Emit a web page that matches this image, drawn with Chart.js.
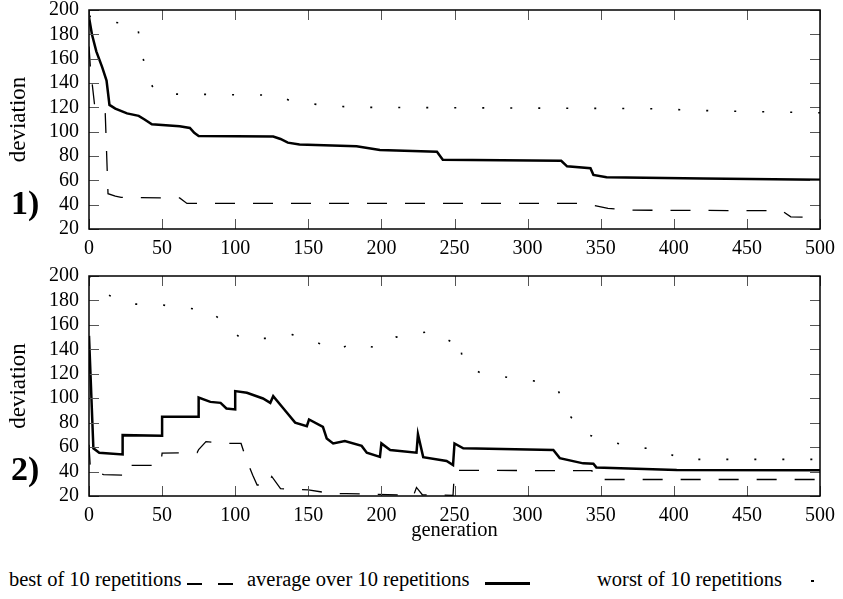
<!DOCTYPE html>
<html lang="en">
<head>
<meta charset="UTF-8">
<title>deviation x generation</title>
<script src="https://cdn.jsdelivr.net/npm/chart.js"></script>
<style>
    body { margin: 0; background: #fff; width: 843px; height: 599px; position: relative; overflow: hidden; font-family: "Liberation Serif", "DejaVu Serif", serif; color: #000; }
    .painel { position: absolute; left: 0; width: 843px; }
    #painel1 { top: 0; height: 260px; }
    #painel2 { top: 260px; height: 290px; }
    .numero { position: absolute; left: 11px; font-weight: bold; font-size: 34px; line-height: 34px; }
    .legenda { position: absolute; top: 568px; font-size: 20.5px; white-space: nowrap; }
    .traco { position: absolute; height: 2px; background: #000; }
</style>
</head>
<body>
<div class="painel" id="painel1"><canvas id="grafico1"></canvas></div>
<div class="painel" id="painel2"><canvas id="grafico2"></canvas></div>
<div class="numero" style="top:186px">1)</div>
<div class="numero" style="top:452px">2)</div>

<div class="legenda" style="left:9px">best of 10 repetitions</div>
<div class="traco" style="left:187px; top:583px; width:15px; height:1.5px"></div>
<div class="traco" style="left:218px; top:583px; width:15px; height:1.5px"></div>
<div class="legenda" style="left:247px">average over 10 repetitions</div>
<div class="traco" style="left:485px; top:582px; width:45px; height:2.5px"></div>
<div class="legenda" style="left:597px">worst of 10 repetitions</div>
<div class="traco" style="left:811px; top:580px; width:3px; height:1.5px"></div>

<script>
    // gráfico 1)
    var geracoesMelhor1 = [0, 1, 4, 11, 13, 18, 22, 62, 67, 335, 345, 355, 370, 474, 480, 500];
    var melhor1 = [170, 152, 120, 119, 49, 47, 46, 45.5, 41, 41, 39.5, 37, 35.5, 35, 30, 29.5];
    var geracoesMedia1 = [0, 2, 5, 9, 12, 14, 18, 26, 34, 38, 43, 62, 69, 72, 75, 126, 131, 136, 144, 183, 199, 238, 242, 323, 327, 343, 345, 354, 420, 500];
    var media1 = [194, 180, 166, 153, 142, 122, 119, 115, 113, 110, 106, 104.5, 103, 99, 96.5, 96, 94, 91, 89.5, 88, 85, 83.5, 77, 76, 71.5, 70, 64.5, 62.5, 61.5, 60.5];
    var geracoesPior1 = [0, 16, 33, 36, 40, 45, 50, 130, 138, 165, 190, 380, 430, 500];
    var pior1 = [195, 190, 188, 166, 144, 134, 131, 130, 125, 121, 120, 119, 117, 115.5];

    // gráfico 2)
    var geracoesMelhor2 = [0, 1, 10, 23, 24, 49, 50, 74, 75, 80, 95, 104, 107, 112, 115, 118, 122, 125, 131, 150, 166, 176, 222, 224, 228, 249, 250, 344, 346, 500];
    var melhor2 = [62, 41, 37.5, 37, 45, 45, 55, 55.5, 58, 64.5, 63, 63, 52, 37, 29, 29, 28, 36, 26, 25, 22, 22, 20.5, 27, 21, 20.5, 41, 40.7, 33.5, 33.5];
    var geracoesMedia2 = [0, 3, 7, 23, 23, 50, 50, 75, 75, 83, 90, 94, 100, 100, 108, 119, 124, 126, 133, 141, 149, 150.5, 160, 162.6, 167, 175, 186.5, 190, 199, 200, 206, 224, 225, 228.6, 244.6, 249, 250, 256, 317.6, 322, 338, 345, 347, 402, 500];
    var media2 = [151, 59, 55.4, 54, 69.8, 69.3, 84.8, 84.8, 100.6, 97, 96.2, 91.6, 90.8, 105.8, 104.4, 99.8, 96.2, 101.7, 91.6, 80, 77.2, 82.6, 76.6, 67.1, 63, 65, 61, 55.4, 52, 63, 57.6, 55.4, 70.6, 51.8, 48.6, 45.3, 63, 59, 57.6, 51, 46.7, 46.4, 43.4, 41.2, 41];
    var geracoesPior2 = [0, 12, 28, 46, 64, 83, 93, 104, 123, 139, 153, 169, 180, 198, 210, 225, 235, 248, 253, 256, 269, 287, 305, 321, 328, 339, 355, 372, 391, 405, 500];
    var pior2 = [200, 185, 177, 177, 174, 172, 160, 149, 149, 152, 147, 139, 145, 141, 150, 153, 155, 146, 150, 128, 120, 117, 114, 106, 87, 71, 65, 60, 58, 50, 50];

    var ticksX = [0, 50, 100, 150, 200, 250, 300, 350, 400, 450, 500];

    Chart.defaults.font.family = '"Liberation Serif", "DejaVu Serif", serif';
    Chart.defaults.color = '#000';

    function pontos(geracoes, valores) {
        return geracoes.map(function (g, i) { return { x: g, y: valores[i] }; });
    }

    // moldura e marcas internas dos eixos
    var moldura = {
        id: 'moldura',
        afterDatasetsDraw: function (chart) {
            var ctx = chart.ctx, a = chart.chartArea, x = chart.scales.x, y = chart.scales.y;
            ctx.save();
            ctx.strokeStyle = '#555';
            ctx.lineWidth = 1;
            ctx.beginPath();
            x.ticks.forEach(function (t) {
                var px = Math.round(x.getPixelForValue(t.value)) + 0.5;
                ctx.moveTo(px, a.top); ctx.lineTo(px, a.top + 10);
                ctx.moveTo(px, a.bottom); ctx.lineTo(px, a.bottom - 10);
            });
            y.ticks.forEach(function (t) {
                var py = Math.round(y.getPixelForValue(t.value)) + 0.5;
                ctx.moveTo(a.left, py); ctx.lineTo(a.left + 10, py);
                ctx.moveTo(a.right, py); ctx.lineTo(a.right - 10, py);
            });
            ctx.stroke();
            ctx.strokeStyle = '#000';
            ctx.lineWidth = 1.5;
            ctx.strokeRect(a.left, a.top, a.right - a.left, a.bottom - a.top);
            ctx.restore();
        }
    };

    function plotarGrafico(id, melhor, media, pior, alturaX, topo, comTitulo) {
        return new Chart(document.getElementById(id).getContext('2d'), {
            type: 'line',
            data: {
                datasets: [{
                    data: melhor,
                    borderColor: '#000',
                    borderWidth: 1.3,
                    borderDash: [20, 18]
                }, {
                    data: media,
                    borderColor: '#000',
                    borderWidth: 2.5
                }, {
                    data: pior,
                    borderColor: '#000',
                    borderWidth: 1.6,
                    borderDash: [2, 26]
                }]
            },
            options: {
                responsive: true,
                maintainAspectRatio: false,
                animation: false,
                elements: { point: { radius: 0 }, line: { tension: 0 } },
                layout: { padding: { top: topo, right: 23, left: 0, bottom: 0 } },
                plugins: { legend: { display: false }, tooltip: { enabled: false } },
                scales: {
                    x: {
                        type: 'linear',
                        min: 0,
                        max: 500,
                        afterBuildTicks: function (s) { s.ticks = ticksX.map(function (v) { return { value: v }; }); },
                        afterFit: function (s) { s.height = alturaX; s.paddingLeft = 0; s.paddingRight = 0; },
                        grid: { display: false },
                        border: { display: false },
                        ticks: { color: '#000', padding: 0, maxRotation: 0, autoSkip: false, font: { size: 20 } },
                        title: {
                            display: comTitulo,
                            text: 'generation',
                            color: '#000',
                            padding: { top: 0, bottom: 7 },
                            font: { size: 20.5 }
                        }
                    },
                    y: {
                        min: 20,
                        max: 200,
                        afterFit: function (s) { s.width = 89; s.paddingTop = 0; s.paddingBottom = 0; },
                        grid: { display: false },
                        border: { display: false },
                        ticks: { stepSize: 20, autoSkip: false, color: '#000', padding: 2, font: { size: 20 } },
                        title: {
                            display: true,
                            text: 'deviation',
                            color: '#000',
                            padding: { top: 5, bottom: 0 },
                            font: { size: 23 }
                        }
                    }
                }
            },
            plugins: [moldura]
        });
    }

    plotarGrafico('grafico1', pontos(geracoesMelhor1, melhor1), pontos(geracoesMedia1, media1), pontos(geracoesPior1, pior1), 31, 10, false);
    plotarGrafico('grafico2', pontos(geracoesMelhor2, melhor2), pontos(geracoesMedia2, media2), pontos(geracoesPior2, pior2), 54, 16, true);
</script>
</body>
</html>
